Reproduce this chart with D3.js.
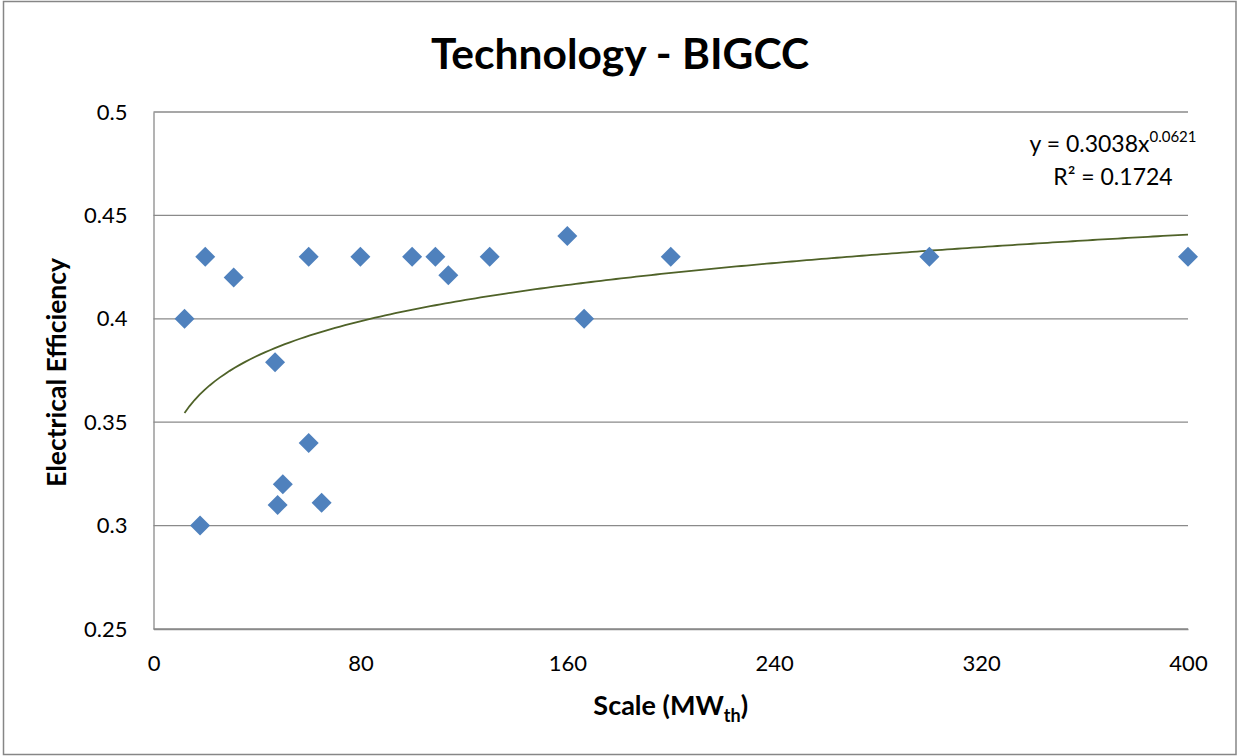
<!DOCTYPE html>
<html>
<head>
<meta charset="utf-8">
<script src="https://cdn.jsdelivr.net/npm/d3@7"></script>
<style>
  html, body { margin: 0; padding: 0; background: #fff; }
  svg { display: block; font-family: Lato, "Carlito", Calibri, "Open Sans", sans-serif; }
</style>
</head>
<body>
<svg id="chart" width="1239" height="756"></svg>
<script>
// BIGCC plant scale (MWth) vs electrical efficiency
const scaleMW = [12, 20, 18, 31, 47, 48, 50, 60, 60, 65, 80, 100, 109, 114, 130, 160, 166.5, 200, 300, 400];
const efficiency = [0.40, 0.43, 0.30, 0.42, 0.379, 0.31, 0.32, 0.43, 0.34, 0.311, 0.43, 0.43, 0.43, 0.421, 0.43, 0.44, 0.40, 0.43, 0.43, 0.43];

// Power-law trendline y = a * x^b as reported on the chart
const fitA = 0.3038;
const fitB = 0.0621;
const fitR2 = 0.1724;

const xTicks = [0, 80, 160, 240, 320, 400];
const yTicks = [0.25, 0.3, 0.35, 0.4, 0.45, 0.5];

const svg = d3.select("#chart");
const W = 1239, H = 756;
const plot = { left: 153.5, right: 1188, top: 112, bottom: 629 };

// outer chart frame
svg.append("rect")
  .attr("x", 3.5).attr("y", 1.5)
  .attr("width", W - 6.5).attr("height", H - 3)
  .attr("fill", "#fff").attr("stroke", "#868686").attr("stroke-width", 1.5);

const x = d3.scaleLinear().domain([0, 400]).range([plot.left, plot.right]);
const y = d3.scaleLinear().domain([0.25, 0.5]).range([plot.bottom, plot.top]);

// horizontal gridlines
svg.append("g")
  .selectAll("line")
  .data(yTicks)
  .join("line")
  .attr("x1", plot.left).attr("x2", plot.right)
  .attr("y1", d => y(d)).attr("y2", d => y(d))
  .attr("stroke", "#8a8a8a").attr("stroke-width", 1.3);

// axes (lines only; labels drawn below)
const yAxis = d3.axisLeft(y).tickValues(yTicks).tickSize(0).tickFormat(d => d3.format("")(+d.toFixed(2)));
const gy = svg.append("g").attr("transform", `translate(${plot.left},0)`).call(yAxis);
gy.select(".domain").attr("stroke", "#8a8a8a").attr("stroke-width", 1.3);
gy.selectAll("text")
  .attr("x", -26)
  .attr("font-size", 22)
  .attr("font-family", "Lato, Carlito, Calibri, sans-serif")
  .attr("fill", "#000");

const xAxis = d3.axisBottom(x).tickValues(xTicks).tickSize(0).tickFormat(d3.format("d"));
const gx = svg.append("g").attr("transform", `translate(0,${plot.bottom})`).call(xAxis);
gx.select(".domain").attr("stroke", "#8a8a8a").attr("stroke-width", 1.3);
gx.selectAll("text")
  .attr("y", 26)
  .attr("font-size", 22)
  .attr("font-family", "Lato, Carlito, Calibri, sans-serif")
  .attr("fill", "#000");

// trendline from the fitted power law, across the range of observed scales
const xMin = d3.min(scaleMW), xMax = d3.max(scaleMW);
const trendPts = d3.range(0, 201).map(i => {
  const xv = xMin + (xMax - xMin) * i / 200;
  return [xv, fitA * Math.pow(xv, fitB)];
});
svg.append("path")
  .datum(trendPts)
  .attr("d", d3.line().x(d => x(d[0])).y(d => y(d[1])).curve(d3.curveLinear))
  .attr("fill", "none")
  .attr("stroke", "#4f6228")
  .attr("stroke-width", 1.8);

// diamond markers
const diamond = d3.symbol().type(d3.symbolSquare).size(200);
svg.append("g")
  .selectAll("path")
  .data(scaleMW.map((v, i) => [v, efficiency[i]]))
  .join("path")
  .attr("d", diamond)
  .attr("transform", d => `translate(${x(d[0])},${y(d[1])}) rotate(45)`)
  .attr("fill", "#4f81bd");

// title
svg.append("text")
  .attr("x", 620).attr("y", 69)
  .attr("text-anchor", "middle")
  .attr("font-size", 42.5).attr("font-weight", "bold")
  .text("Technology - BIGCC");

// y-axis title
svg.append("text")
  .attr("transform", `translate(66,${(plot.top + plot.bottom) / 2 + 2}) rotate(-90)`)
  .attr("text-anchor", "middle")
  .attr("font-size", 26.5).attr("font-weight", "bold")
  .text("Electrical Efficiency");

// x-axis title with subscript
const xt = svg.append("text")
  .attr("x", (plot.left + plot.right) / 2).attr("y", 715)
  .attr("text-anchor", "middle")
  .attr("font-size", 27).attr("font-weight", "bold");
xt.append("tspan").text("Scale (MW");
xt.append("tspan").attr("font-size", 18).attr("dy", 7).text("th");
xt.append("tspan").attr("dy", -7).text(")");

// trendline equation and R²
const eq = svg.append("text")
  .attr("x", 1113).attr("y", 152)
  .attr("text-anchor", "middle")
  .attr("font-size", 23);
eq.append("tspan").text(`y = ${fitA}x`);
eq.append("tspan").attr("font-size", 15).attr("dy", -10).text(`${fitB}`);

svg.append("text")
  .attr("x", 1113).attr("y", 185)
  .attr("text-anchor", "middle")
  .attr("font-size", 23)
  .text(`R² = ${fitR2}`);
</script>
</body>
</html>
